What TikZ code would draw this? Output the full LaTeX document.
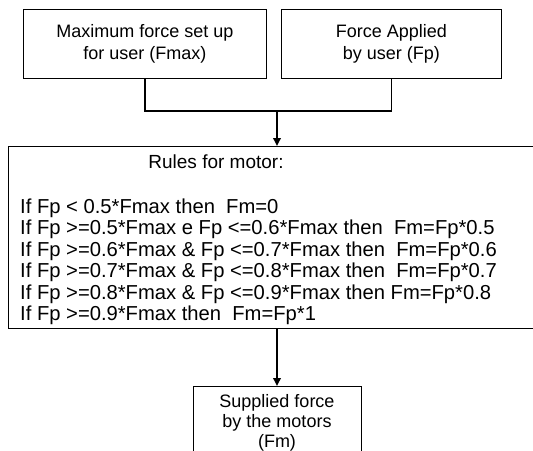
\documentclass[tikz,border=0pt]{standalone}
\usepackage{fontspec}
\setmainfont{Liberation Sans}
\usetikzlibrary{arrows.meta,calc}
\begin{document}
\begin{tikzpicture}[x=1pt,y=1pt,
  box/.style={draw,line width=0.8pt,inner sep=0pt,align=center,
    font=\fontsize{18}{22}\selectfont},
  rtxt/.style={inner sep=0pt,align=left,font=\fontsize{20.2}{21.5}\selectfont},
  conn/.style={line width=1.8pt},
  arr/.style={line width=1.8pt,-{Triangle[length=8pt,width=7.5pt]}}]
\clip (0,0) rectangle (533,-450);
\fill[white] (0,0) rectangle (533,-450);
\node[box,minimum width=243,minimum height=69,anchor=north west] (fmax) at (23,-9)
  {Maximum force set up\\ for user (Fmax)};
\node[box,minimum width=220,minimum height=69,anchor=north west] (fp) at (281,-9)
  {Force Applied\\ by user (Fp)};
\node[draw,line width=0.8pt,inner sep=0pt,minimum width=560,minimum height=182,anchor=north west] (rules) at (8,-146) {};
\node[rtxt,anchor=center,font=\fontsize{19}{21.5}\selectfont] (title) at (216,-162) {Rules for motor:};
\node[rtxt,anchor=west] (rows) at (20,-262)
  {If Fp < 0.5*Fmax then\ \ Fm=0\\
   If Fp >=0.5*Fmax e Fp <=0.6*Fmax then\ \ Fm=Fp*0.5\\
   If Fp >=0.6*Fmax \& Fp <=0.7*Fmax then\ \ Fm=Fp*0.6\\
   If Fp >=0.7*Fmax \& Fp <=0.8*Fmax then\ \ Fm=Fp*0.7\\
   If Fp >=0.8*Fmax \& Fp <=0.9*Fmax then Fm=Fp*0.8\\
   If Fp >=0.9*Fmax then\ \ Fm=Fp*1};
\node[box,minimum width=168,minimum height=72,anchor=north,
  font=\fontsize{18}{20}\selectfont] (fm) at (277,-386)
  {Supplied force\\ by the motors\\ (Fm)};
\coordinate (j) at (277,-111);
\draw[conn] (fmax.south) |- (j) -| (fp.south);
\draw[arr] (j) -- (j |- rules.north);
\draw[arr] (rules.south -| fm.north) -- (fm.north);
\end{tikzpicture}
\end{document}
